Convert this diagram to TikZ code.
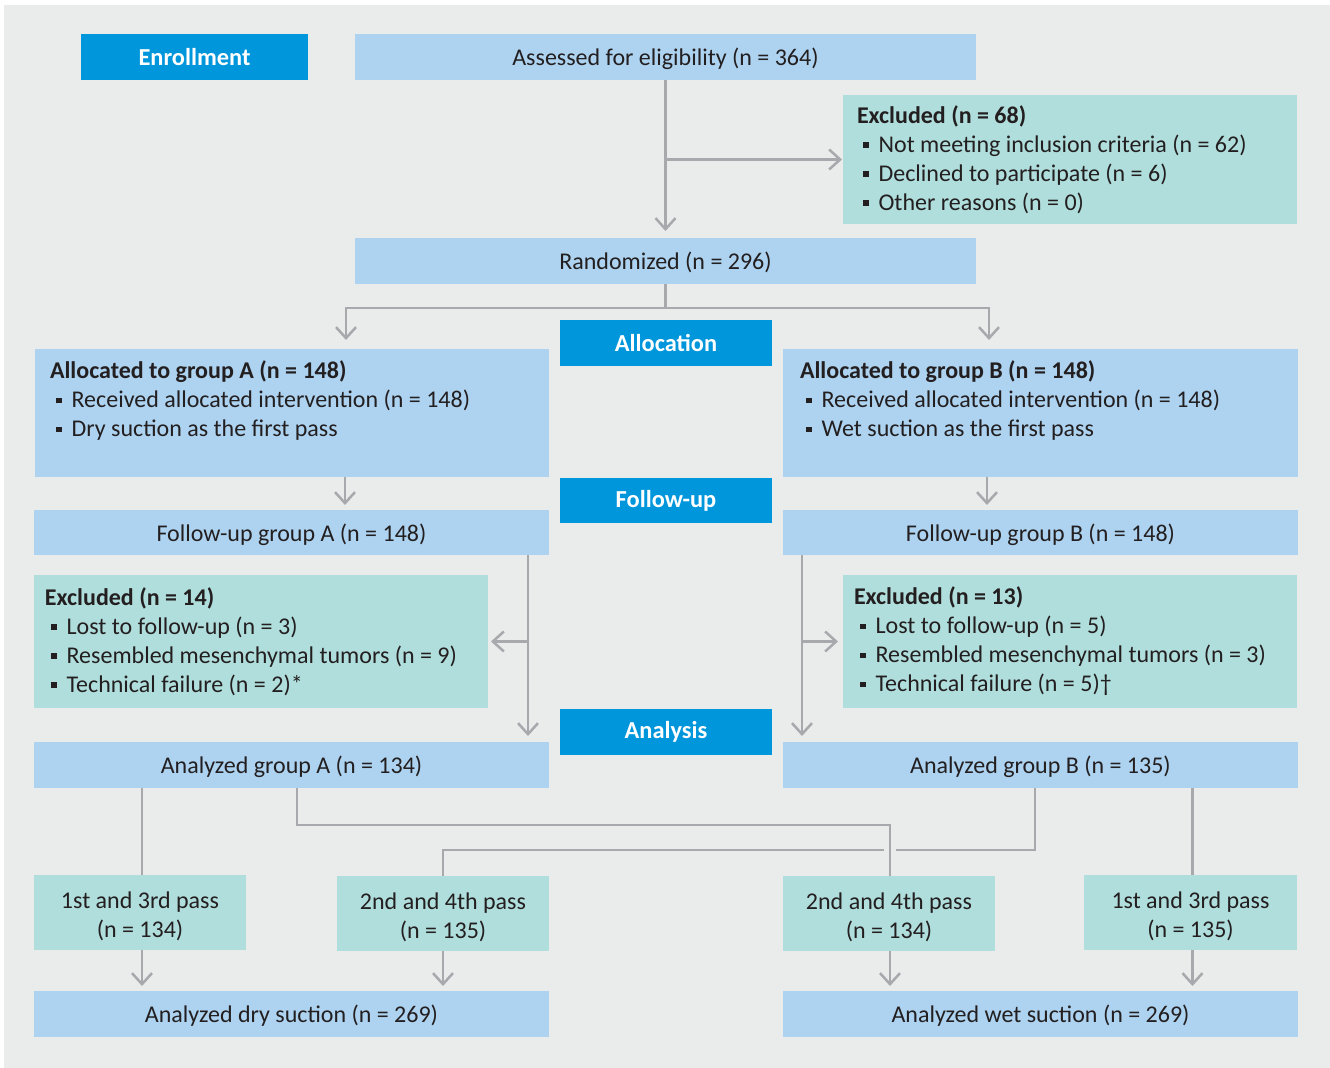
\documentclass[tikz,border=0pt]{standalone}
\usepackage{fontspec}
\setmainfont{Carlito}
\usetikzlibrary{arrows.meta}
\definecolor{ink}{HTML}{231F20}
\definecolor{panel}{HTML}{EAECEB}
\definecolor{head}{HTML}{0096DB}
\definecolor{sky}{HTML}{ADD3F0}
\definecolor{teal}{HTML}{B0DEDC}
\definecolor{wire}{HTML}{A8A9AD}
\newcommand{\itm}{\hspace*{3pt}\rule[2.2pt]{2.8pt}{2.8pt}\hspace{5pt}}
\newcommand{\bodyfont}{\fontsize{12}{14.5}\selectfont}

\begin{document}
\begin{tikzpicture}[x=0.5pt,y=-0.5pt,
  box/.style={inner sep=0pt,outer sep=0pt,text=ink,font=\bodyfont},
  headbox/.style={box,fill=head,text=white,font=\fontsize{12.2}{15}\selectfont\bfseries,minimum width=106pt,minimum height=23pt},
  skybox/.style={box,fill=sky,minimum height=23pt,text height=9.5pt,text depth=0.5pt},
  tealbox/.style={box,fill=teal,align=flush left,inner xsep=5.5pt},
  passbox/.style={box,fill=teal,minimum width=106pt,minimum height=37.5pt},
  passtext/.style={box,align=center},
  wireline/.style={draw=wire,line width=1.25pt},
  arr/.style={wireline,-{Straight Barb[length=5.5pt,width=10pt]}}]
\useasboundingbox (0,0) rectangle (1330,1068);
\fill[white] (0,0) rectangle (1330,1068);
\fill[panel] (4,5) rectangle (1330,1068);

% stage headings
\node[headbox,minimum width=113.5pt] (enroll) at (194.5,57) {Enrollment};
\node[headbox] (alloc) at (666,343) {Allocation};
\node[headbox,minimum height=22.5pt] (follow) at (666,500.5) {Follow-up};
\node[headbox] (analysis) at (666,732) {Analysis};

% enrollment
\node[skybox,minimum width=310.5pt] (assess) at (665.5,57) {Assessed for eligibility (n = 364)};
\node[tealbox,text width=213pt,inner xsep=7pt,minimum height=64.5pt] (excl) at (1070,159.5)
  {\textbf{Excluded (n = 68)}\\\itm Not meeting inclusion criteria (n = 62)\\\itm Declined to participate (n = 6)\\\itm Other reasons (n = 0)};
\node[skybox,minimum width=310.5pt] (rand) at (665.5,261) {Randomized (n = 296)};

% allocation
\node[skybox,minimum width=257pt,minimum height=64pt] (allocA) at (292,413) {};
\node[skybox,minimum width=257.5pt,minimum height=64pt] (allocB) at (1040.5,413) {};
\node[box,align=left,anchor=north west] (allocAtxt) at (50,361)
  {\textbf{Allocated to group A (n = 148)}\\\itm Received allocated intervention (n = 148)\\\itm Dry suction as the first pass};
\node[box,align=left,anchor=north west] (allocBtxt) at (800,361)
  {\textbf{Allocated to group B (n = 148)}\\\itm Received allocated intervention (n = 148)\\\itm Wet suction as the first pass};

% follow-up
\node[skybox,minimum width=257.5pt,minimum height=22.5pt] (fupA) at (291.5,532.5) {Follow-up group A (n = 148)};
\node[skybox,minimum width=257.5pt,minimum height=22.5pt] (fupB) at (1040.5,532.5) {Follow-up group B (n = 148)};
\node[tealbox,text width=216pt,minimum height=66.5pt] (exclA) at (261,641.5)
  {\textbf{Excluded (n = 14)}\\\itm Lost to follow-up (n = 3)\\\itm Resembled mesenchymal tumors (n = 9)\\\itm Technical failure (n = 2)*};
\node[tealbox,text width=216pt,minimum height=66.5pt] (exclB) at (1070,641.5)
  {\textbf{Excluded (n = 13)}\\\itm Lost to follow-up (n = 5)\\\itm Resembled mesenchymal tumors (n = 3)\\\itm Technical failure (n = 5)\textdagger};

% analysis
\node[skybox,minimum width=257.5pt] (anaA) at (291.5,765) {Analyzed group A (n = 134)};
\node[skybox,minimum width=257.5pt] (anaB) at (1040.5,765) {Analyzed group B (n = 135)};
\node[passbox] (p13A) at (140,912.5) {};
\node[passbox] (p24A) at (443,913.5) {};
\node[passbox] (p24B) at (889,913.5) {};
\node[passbox,minimum width=106.5pt] (p13B) at (1190.5,912.5) {};
\node[passtext] (p13Atxt) at ([yshift=-1.75pt]p13A) {1st and 3rd pass\\(n = 134)};
\node[passtext] (p24Atxt) at ([yshift=-1.75pt]p24A) {2nd and 4th pass\\(n = 135)};
\node[passtext] (p24Btxt) at ([yshift=-1.75pt]p24B) {2nd and 4th pass\\(n = 134)};
\node[passtext] (p13Btxt) at ([yshift=-1.75pt]p13B) {1st and 3rd pass\\(n = 135)};
\node[skybox,minimum width=257.5pt] (dry) at (291.5,1014) {Analyzed dry suction (n = 269)};
\node[skybox,minimum width=257.5pt] (wet) at (1040.5,1014) {Analyzed wet suction (n = 269)};

% connectors
\draw[arr,shorten >=3.5pt] (assess) -- (rand);
\draw[arr,shorten >=0.5pt] (assess.south |- excl.west) -- (excl.west);
\draw[arr,shorten >=4.5pt] (rand.south) -- ++(0,24) -| ([xshift=27pt]allocA.north);
\draw[arr,shorten >=4.5pt] (rand.south) -- ++(0,24) -| ([xshift=-25.75pt]allocB.north);
\draw[arr,shorten >=2.5pt] ([xshift=26.5pt]allocA.south) -- ([xshift=26.5pt]allocA.south |- fupA.north);
\draw[arr,shorten >=2.5pt] ([xshift=-26.75pt]allocB.south) -- ([xshift=-26.75pt]allocB.south |- fupB.north);
\coordinate (fa) at ([xshift=118.25pt]fupA.south);
\coordinate (fb) at ([xshift=-119.25pt]fupB.south);
\draw[arr,shorten >=3pt] (fa) -- (fa |- anaA.north);
\draw[arr,shorten >=1.5pt] (fa |- exclA.east) -- (exclA.east);
\draw[arr,shorten >=3pt] (fb) -- (fb |- anaB.north);
\draw[arr,shorten >=2.5pt] (fb |- exclB.west) -- (exclB.west);
\coordinate (pa) at ([xshift=1pt]p13A.north);
\coordinate (pb) at ([xshift=1pt]p13B.north);
\draw[wireline] (pa |- anaA.south) -- (pa);
\draw[wireline] (pb |- anaB.south) -- (pb);
\draw[wireline] ([xshift=-2.75pt]anaB.south) -- ++(0,62) -| (p24A.north);
\draw[wireline,preaction={draw=panel,line width=6pt}] ([xshift=2.75pt]anaA.south) -- ++(0,37) -| ([xshift=0.5pt]p24B.north);
\draw[arr,shorten >=2.5pt] ([xshift=1pt]p13A.south) -- ([xshift=1pt]p13A.south |- dry.north);
\draw[arr,shorten >=2.5pt] (p24A) -- (p24A.south |- dry.north);
\draw[arr,shorten >=2.5pt] ([xshift=0.5pt]p24B.south) -- ([xshift=0.5pt]p24B.south |- wet.north);
\draw[arr,shorten >=2.5pt] ([xshift=1pt]p13B.south) -- ([xshift=1pt]p13B.south |- wet.north);
\end{tikzpicture}
\end{document}
